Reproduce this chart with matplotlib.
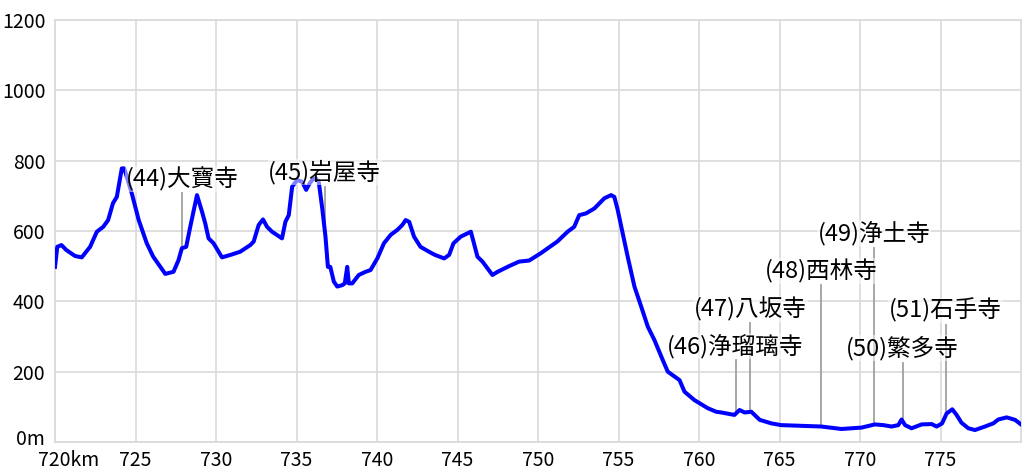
import numpy as np
import matplotlib.pyplot as plt
import matplotlib.transforms as mtransforms

plt.rcParams['font.family'] = ['Noto Sans CJK JP', 'DejaVu Sans']

# elevation profile (km, m)
km = [720.0, 720.14, 720.4, 720.7, 721.24, 721.66, 722.18, 722.6, 723.0, 723.3,
      723.6, 723.84, 724.15, 724.3, 724.77, 725.2, 725.7, 726.1, 726.85, 727.36,
      727.67, 727.88, 728.15, 728.4, 728.82, 729.13, 729.33, 729.54, 729.85, 730.37,
      730.9, 731.5, 732.13, 732.34, 732.65, 732.92, 733.17, 733.48, 734.1, 734.31,
      734.52, 734.73, 735.04, 735.35, 735.6, 735.76, 735.97, 736.18, 736.38, 736.6,
      736.8, 736.95, 737.1, 737.32, 737.53, 737.84, 738.0, 738.15, 738.25, 738.46,
      738.87, 739.29, 739.6, 740.02, 740.43, 740.85, 741.26, 741.57, 741.78, 742.0,
      742.3, 742.7, 743.23, 743.6, 744.17, 744.48, 744.75, 745.2, 745.83, 746.24,
      746.55, 747.17, 747.49, 748.2, 748.83, 749.45, 750.18, 751.2, 751.84, 752.25,
      752.56, 752.98, 753.5, 754.12, 754.54, 754.74, 754.95, 755.26, 755.57, 755.99,
      756.41, 756.82, 757.23, 757.75, 758.06, 758.79, 759.1, 759.72, 760.55, 761.07,
      761.38, 762.2, 762.52, 762.83, 763.25, 763.77, 764.49, 765.1, 766.36, 767.6,
      768.85, 770.1, 770.92, 771.45, 771.96, 772.38, 772.58, 772.8, 773.2, 773.83,
      774.45, 774.76, 775.1, 775.38, 775.73, 776.0, 776.3, 776.73, 777.14, 777.76,
      778.28, 778.59, 779.11, 779.63, 780.0]
elev = [498, 555, 560, 546, 529, 525, 555, 598, 612, 631,
        679, 697, 778, 778, 707, 631, 565, 527, 478, 484,
        517, 551, 555, 612, 702, 655, 622, 579, 565, 525,
        532, 541, 560, 570, 617, 633, 612, 598, 579, 626,
        645, 726, 745, 740, 717, 731, 745, 750, 740, 664,
        584, 498, 498, 456, 442, 446, 451, 498, 451, 451,
        475, 484, 489, 522, 565, 589, 603, 617, 631, 626,
        584, 555, 541, 532, 522, 532, 565, 584, 598, 527,
        513, 475, 484, 500, 513, 516, 537, 570, 598, 612,
        645, 650, 664, 693, 702, 697, 660, 593, 527, 442,
        385, 328, 290, 233, 200, 176, 143, 119, 96, 86,
        84, 77, 91, 84, 86, 63, 53, 48, 46, 44,
        37, 41, 50, 48, 44, 48, 64, 48, 39, 50,
        51, 44, 53, 81, 93, 77, 55, 39, 34, 44,
        53, 64, 70, 63, 50]

# temples: name, km, label height (m)
temples = ['(44)大寶寺', '(45)岩屋寺', '(46)浄瑠璃寺', '(47)八坂寺',
           '(48)西林寺', '(49)浄土寺', '(50)繁多寺', '(51)石手寺']
temple_km = [727.88, 736.76, 762.27, 763.19, 767.6, 770.86, 772.65, 775.32]
label_elev = [707, 726, 233, 338, 446, 552, 225, 333]

xticks = [720, 725, 730, 735, 740, 745, 750, 755, 760, 765, 770, 775]
xlabels = ['720km', '725', '730', '735', '740', '745', '750', '755', '760', '765', '770', '775']
yticks = [0, 200, 400, 600, 800, 1000, 1200]
ylabels = ['0m', '200', '400', '600', '800', '1000', '1200']

fig = plt.figure(figsize=(10.24, 4.76), dpi=100)
ax = fig.add_axes([55/1024, 34/476, 966/1024, 422/476])

ax.plot(km, elev, color='#0000ff', lw=2.9, zorder=3)

for name, tk, le in zip(temples, temple_km, label_elev):
    base = np.interp(tk, km, elev)
    ax.plot([tk, tk], [base, le], color='#a0a0a0', lw=1.3, zorder=2)
    ax.text(tk, le + 6, name, ha='center', va='bottom', fontsize=17,
            zorder=5, bbox=dict(facecolor='white', alpha=0.5, edgecolor='none', pad=0.5))

ax.set_xlim(720, 780)
ax.set_ylim(0, 1200)
ax.set_xticks(xticks)
ax.set_xticklabels(xlabels)
ax.set_yticks(yticks)
ax.set_yticklabels(ylabels)
ax.tick_params(length=0, labelsize=14)
ax.tick_params(axis='x', pad=6)
ax.tick_params(axis='y', pad=7)
ax.grid(True, color='#d9d9d9', lw=1.2)
ax.set_axisbelow(True)
for s in ['right', 'top', 'left', 'bottom']:
    ax.spines[s].set_color('#d9d9d9')
    ax.spines[s].set_linewidth(1.2)

# nudge the first labels so "0m" and "720km" do not collide
fig.canvas.draw()
lbl0 = ax.get_yticklabels()[0]
lbl0.set_transform(lbl0.get_transform() + mtransforms.ScaledTranslation(0, 5/100, fig.dpi_scale_trans))
lblx = ax.get_xticklabels()[0]
lblx.set_transform(lblx.get_transform() + mtransforms.ScaledTranslation(14/100, 0, fig.dpi_scale_trans))

plt.savefig('out.png')
